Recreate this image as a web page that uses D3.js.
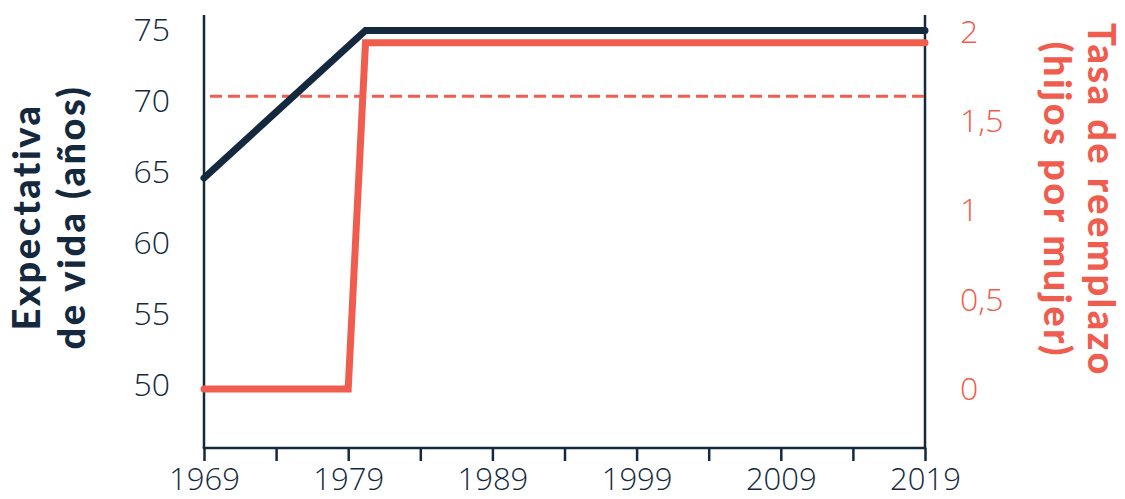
<!DOCTYPE html>
<html>
<head>
<meta charset="utf-8">
<script src="https://cdn.jsdelivr.net/npm/d3@7"></script>
<style>
  body { margin: 0; background: #fff; }
  svg { display: block; }
</style>
</head>
<body>
<svg id="chart"></svg>
<script>
var years = [1969, 1980.2, 2019]
var lifeExpectancy = [64.6, 75, 75]
var fertYears = [1969, 1979, 1980.2, 2019]
var fertilityRate = [0, 0, 1.94, 1.94]
var replacementRate = 1.64
var xTicks = [1969, 1979, 1989, 1999, 2009, 2019]
var xMinorTicks = [1974, 1984, 1994, 2004, 2014]
var leftTicks = [50, 55, 60, 65, 70, 75]
var rightTicks = [0, 0.5, 1, 1.5, 2]

var dark = "#14293e"
var red = "#f05d4e"

var dimensions = {
    width: 1125,
    height: 499,
    left: 204,
    right: 925,
    top: 15,
    bottom: 448
}

var svg = d3.select("#chart")
    .attr("width", dimensions.width)
    .attr("height", dimensions.height)

var xScale = d3.scaleLinear()
               .domain([1969, 2019])
               .range([dimensions.left, dimensions.right])
var yLeft = d3.scaleLinear()
              .domain([50, 75])
              .range([385, 30.5])
var yRight = d3.scaleLinear()
               .domain([0, 2])
               .range([389, 32])

// axis lines
svg.append("line")
   .attr("x1", dimensions.left).attr("x2", dimensions.left)
   .attr("y1", dimensions.top).attr("y2", dimensions.bottom)
   .attr("stroke", dark).attr("stroke-width", 2.5)
svg.append("line")
   .attr("x1", dimensions.right).attr("x2", dimensions.right)
   .attr("y1", dimensions.top).attr("y2", dimensions.bottom)
   .attr("stroke", dark).attr("stroke-width", 2.5)

var xAxisGen = d3.axisBottom(xScale)
                 .tickValues(xTicks.concat(xMinorTicks))
                 .tickSize(13)
                 .tickFormat(d => xTicks.includes(d) ? d : "")
var xAxis = svg.append("g")
               .attr("transform", `translate(0,${dimensions.bottom})`)
               .call(xAxisGen)
xAxis.select(".domain")
     .attr("stroke", dark).attr("stroke-width", 2.5)
     .attr("d", `M${dimensions.left - 1.25},0H${dimensions.right + 1.25}`)
xAxis.selectAll(".tick line").attr("stroke", dark).attr("stroke-width", 2.5)
xAxis.selectAll(".tick text")
     .attr("fill", dark)
     .attr("font-family", "'Open Sans', sans-serif")
     .attr("font-weight", 300)
     .attr("font-size", 31)
     .attr("dy", null)
     .attr("y", 42)

var yLeftGen = d3.axisLeft(yLeft).tickValues(leftTicks).tickSize(0).tickPadding(0)
var leftAxis = svg.append("g")
                  .attr("transform", "translate(170,0)")
                  .call(yLeftGen)
leftAxis.select(".domain").remove()
leftAxis.selectAll(".tick text")
        .attr("fill", dark)
        .attr("font-family", "'Open Sans', sans-serif")
        .attr("font-weight", 300)
        .attr("font-size", 32)

var yRightGen = d3.axisRight(yRight).tickValues(rightTicks).tickSize(0).tickPadding(0)
                  .tickFormat(d => String(d).replace(".", ","))
var rightAxis = svg.append("g")
                   .attr("transform", "translate(960,0)")
                   .call(yRightGen)
rightAxis.select(".domain").remove()
rightAxis.selectAll(".tick text")
         .attr("fill", red)
         .attr("font-family", "'Open Sans', sans-serif")
         .attr("font-weight", 300)
         .attr("font-size", 32)

// replacement dashed line
svg.append("line")
   .attr("x1", xScale(1969) + 6).attr("x2", xScale(2019))
   .attr("y1", yRight(replacementRate)).attr("y2", yRight(replacementRate))
   .attr("stroke", red).attr("stroke-width", 3)
   .attr("stroke-dasharray", "12,6")

var fertLine = d3.line()
                 .x((d, i) => xScale(fertYears[i]))
                 .y(d => yRight(d))
svg.append("path")
   .attr("d", fertLine(fertilityRate))
   .attr("fill", "none")
   .attr("stroke", red)
   .attr("stroke-width", 7)
   .attr("stroke-linecap", "round")

var lifeLine = d3.line()
                 .x((d, i) => xScale(years[i]))
                 .y(d => yLeft(d))
svg.append("path")
   .attr("d", lifeLine(lifeExpectancy))
   .attr("fill", "none")
   .attr("stroke", dark)
   .attr("stroke-width", 7)
   .attr("stroke-linecap", "round")

// axis titles
var leftTitle = svg.append("text")
                   .attr("transform", "translate(40,217) rotate(-90)")
                   .attr("text-anchor", "middle")
                   .attr("fill", dark)
                   .attr("font-family", "Lato, sans-serif")
                   .attr("font-weight", 900)
                   .attr("font-size", 38)
                   .attr("letter-spacing", 2.5)
leftTitle.append("tspan").attr("x", 0).attr("y", 0).text("Expectativa")
leftTitle.append("tspan").attr("x", 0).attr("y", 45).text("de vida (años)")

var rightTitle = svg.append("text")
                    .attr("transform", "translate(1088,200) rotate(90)")
                    .attr("text-anchor", "middle")
                    .attr("fill", red)
                    .attr("font-family", "Lato, sans-serif")
                    .attr("font-weight", 900)
                    .attr("font-size", 38)
                    .attr("letter-spacing", 2.5)
rightTitle.append("tspan").attr("x", 0).attr("y", 0).text("Tasa de reemplazo")
rightTitle.append("tspan").attr("x", 0).attr("y", 44).text("(hijos por mujer)")
</script>
</body>
</html>
